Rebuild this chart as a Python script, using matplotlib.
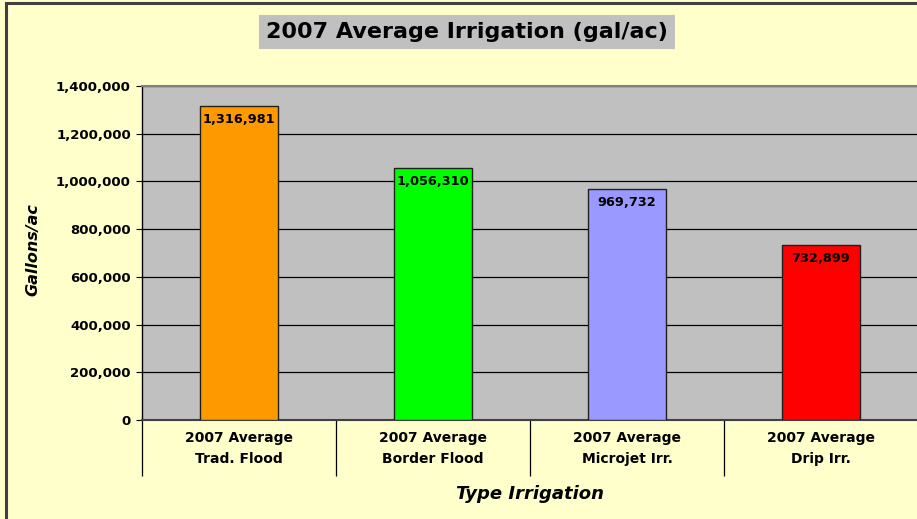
import matplotlib
matplotlib.use("Agg")
import matplotlib.pyplot as plt
import matplotlib.patches as patches
from matplotlib.ticker import FuncFormatter, FixedLocator

categories = ["2007 Average\nTrad. Flood", "2007 Average\nBorder Flood",
              "2007 Average\nMicrojet Irr.", "2007 Average\nDrip Irr."]
values = [1316981, 1056310, 969732, 732899]
bar_colors = ["#FF9900", "#00FF00", "#9999FF", "#FF0000"]
y_ticks = [0, 200000, 400000, 600000, 800000, 1000000, 1200000, 1400000]

plt.rcParams['font.family'] = ['DejaVu Sans']

fig = plt.figure(figsize=(9.17, 5.19), dpi=100)
fig.patch.set_facecolor("#FFFFCC")

# chart border (cropped at right / bottom)
fig.patches.append(patches.Rectangle((5.5 / 917, -0.05), 1.1, (519 - 2.5) / 519 + 0.05,
                                     transform=fig.transFigure, fill=False,
                                     edgecolor="#404040", linewidth=2.2, zorder=0))

ax = fig.add_axes([142 / 917, 1 - 420 / 519, 776 / 917, (420 - 86) / 519])
ax.set_facecolor("#C0C0C0")

x = [i + 1 for i in range(len(values))]
bars = ax.bar(x, values, width=0.40, color=bar_colors, edgecolor="#202020",
              linewidth=1.0, zorder=3)

for xi, v in zip(x, values):
    ax.annotate(f"{v:,}", (xi, v), xytext=(0, -5), textcoords="offset points",
                ha="center", va="top", fontsize=9.3, fontweight="bold", zorder=4)

ax.set_ylim(0, 1400000)
ax.set_xlim(0.5, 4.5)
ax.set_yticks(y_ticks)
ax.yaxis.set_major_formatter(FuncFormatter(lambda v, p: f"{int(v):,}"))
ax.tick_params(axis="y", direction="out", length=4, width=0.8, labelsize=9.5, pad=4)
for lab in ax.get_yticklabels():
    lab.set_fontweight("bold")
ax.yaxis.grid(True, color="black", linewidth=0.9, zorder=1)
ax.set_axisbelow(True)

# category separators as long major ticks, labels on minor ticks
ax.xaxis.set_major_locator(FixedLocator([0.5, 1.5, 2.5, 3.5, 4.5]))
ax.xaxis.set_minor_locator(FixedLocator(x))
ax.set_xticklabels([""] * 5)
ax.set_xticklabels(categories, minor=True)
ax.tick_params(axis="x", which="major", direction="out", length=40, width=0.9)
ax.tick_params(axis="x", which="minor", length=0, pad=8, labelsize=10)
for lab in ax.get_xticklabels(minor=True):
    lab.set_fontweight("bold")
    lab.set_linespacing(1.6)

for side in ["left", "bottom"]:
    ax.spines[side].set_color("black")
    ax.spines[side].set_linewidth(1.0)
ax.spines["bottom"].set_color("#404040")
ax.spines["bottom"].set_linewidth(1.5)
ax.spines["top"].set_color("#808080")
ax.spines["top"].set_linewidth(1.5)
ax.spines["right"].set_visible(False)

fig.text(33 / 917, 1 - 250 / 519, "Gallons/ac", rotation=90, ha="center", va="center",
         fontsize=11.5, fontweight="bold", fontstyle="italic")
fig.text(530 / 917, 1 - 494 / 519, "Type Irrigation", ha="center", va="center",
         fontsize=13, fontweight="bold", fontstyle="italic")

fig.text(467 / 917, 1 - 32 / 519, "2007 Average Irrigation (gal/ac)", ha="center",
         va="center", fontsize=16, fontweight="heavy",
         bbox=dict(boxstyle="square,pad=0.32", facecolor="#C0C0C0", edgecolor="none"))

fig.savefig("out.png", dpi=100, facecolor=fig.get_facecolor())
